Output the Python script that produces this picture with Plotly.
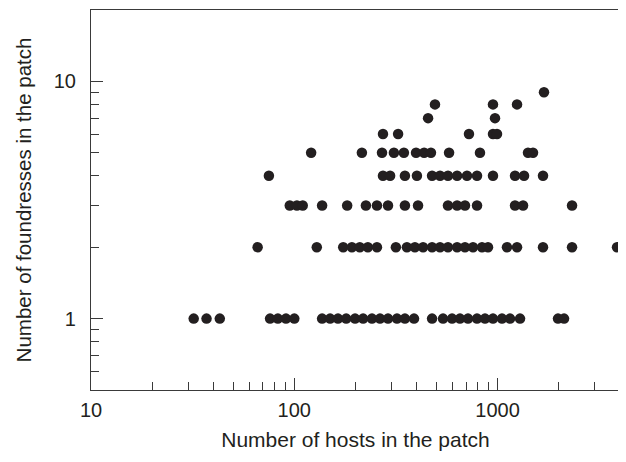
import plotly.graph_objects as go

# Host counts per patch, grouped by number of foundresses
hosts_f1 = [32, 37, 43, 76, 83, 91, 100, 137, 150, 164, 180, 199, 218, 241, 264, 289,
            320, 350, 388, 476, 539, 597, 653, 715, 792, 867, 949, 1051, 1151, 1289,
            1982, 2122]
hosts_f2 = [66, 129, 174, 192, 210, 230, 255, 316, 358, 392, 430, 476, 521, 570, 632,
            691, 757, 838, 897, 1112, 1246, 1672, 2323, 3867]
hosts_f3 = [95, 103, 110, 137, 182, 225, 255, 289, 350, 406, 570, 632, 691, 792, 1218,
            1334, 2323]
hosts_f4 = [75, 273, 296, 350, 401, 476, 521, 570, 632, 707, 792, 949, 1218, 1349, 1672]
hosts_f5 = [121, 215, 270, 309, 346, 397, 435, 470, 577, 819, 1411, 1493]
hosts_f6 = [273, 324, 723, 949, 993]
hosts_f7 = [455, 971]
hosts_f8 = [492, 949, 1246]
hosts_f9 = [1691]

groups = [(1, hosts_f1), (2, hosts_f2), (3, hosts_f3), (4, hosts_f4), (5, hosts_f5),
          (6, hosts_f6), (7, hosts_f7), (8, hosts_f8), (9, hosts_f9)]

x_vals, y_vals = [], []
for f, hs in groups:
    x_vals += hs
    y_vals += [f] * len(hs)

x_ticks = [10, 100, 1000]
x_minor = [20, 30, 40, 50, 60, 70, 80, 90, 200, 300, 400, 500, 600, 700, 800, 900, 2000, 3000]
y_ticks = [1, 10]
y_minor = [0.6, 0.7, 0.8, 0.9, 2, 3, 4, 5, 6, 7, 8, 9]

fig = go.Figure()
fig.add_trace(go.Scatter(
    x=x_vals, y=y_vals, mode="markers",
    marker=dict(size=10.5, color="#231f20", line=dict(width=0)),
    showlegend=False,
))

font = dict(family="Liberation Sans, Arial, sans-serif", size=20, color="#231f20")
axis_common = dict(
    type="log", showline=True, linecolor="#3a3a3a", linewidth=1.2, mirror=True,
    showgrid=False, zeroline=False, ticks="inside", ticklen=12, tickwidth=1,
    tickcolor="#3a3a3a", tickfont=font,
)

fig.update_xaxes(
    **axis_common,
    range=[1, 3.602],
    tickmode="array", tickvals=x_ticks, ticktext=[str(v) for v in x_ticks],
    minor=dict(tickmode="array", tickvals=x_minor, ticks="inside", ticklen=8,
               tickcolor="#3a3a3a", tickwidth=1, showgrid=False),
    ticklabelstandoff=2,
    title=dict(text="Number of hosts in the patch", font=dict(font, size=21), standoff=12),
)
fig.update_yaxes(
    **axis_common,
    range=[-0.301, 1.301],
    tickmode="array", tickvals=y_ticks, ticktext=[str(v) for v in y_ticks],
    minor=dict(tickmode="array", tickvals=y_minor, ticks="inside", ticklen=8,
               tickcolor="#3a3a3a", tickwidth=1, showgrid=False),
    ticklabelstandoff=10,
    title=dict(text="Number of foundresses in the patch", font=dict(font, size=20.5), standoff=16),
)

# The page body has an 8px margin, so the figure is offset by 8px right and down.
fig.update_layout(
    width=618, height=446,
    margin=dict(l=83, r=6, t=2, b=64, autoexpand=False),
    paper_bgcolor="white", plot_bgcolor="white",
    font=font,
)

fig.write_html("out.html")
